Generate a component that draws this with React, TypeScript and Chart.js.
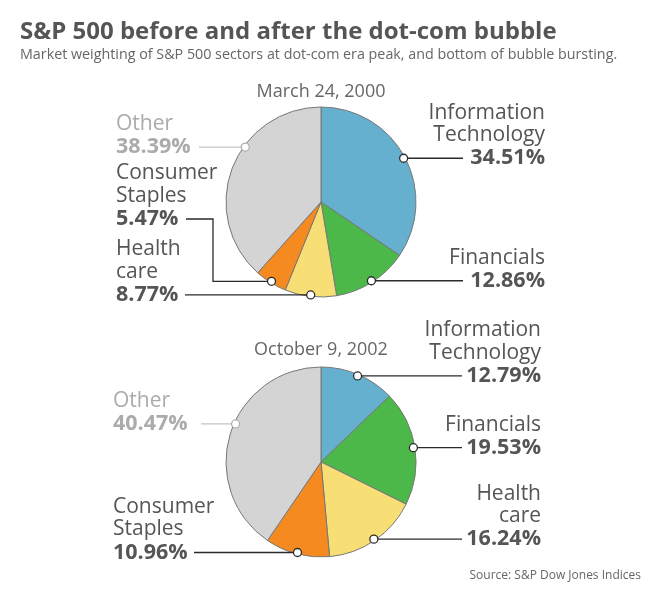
import React, { useEffect, useRef } from "react";
import { Chart, registerables } from "chart.js";

Chart.register(...registerables);

const sectorLines: string[][] = [
  ["Information", "Technology"],
  ["Financials"],
  ["Health", "care"],
  ["Consumer", "Staples"],
  ["Other"],
];
const weights2000 = [34.51, 12.86, 8.77, 5.47, 38.39];
const weights2002 = [12.79, 19.53, 16.24, 10.96, 40.47];
const dates = ["March 24, 2000", "October 9, 2002"];
const sliceColors = ["#65b0cf", "#4db84a", "#f8df75", "#f58a20", "#d4d4d4"];

type LabelLayout = {
  side: "left" | "right";
  x: number;
  lineX: number;
  textY?: number;
  elbowX?: number;
  angle?: number;
};

const FONT = '"Open Sans", "DejaVu Sans", sans-serif';

const pieSpecs = [
  {
    values: weights2000,
    date: dates[0],
    cx: 321,
    cy: 202,
    r: 95,
    dateY: 92,
    labels: [
      { side: "right", x: 545, lineX: 463 },
      { side: "right", x: 545, lineX: 463 },
      { side: "left", x: 116, lineX: 185 },
      { side: "left", x: 116, lineX: 186, textY: 219, elbowX: 213 },
      { side: "left", x: 116, lineX: 199, angle: 306 },
    ] as LabelLayout[],
  },
  {
    values: weights2002,
    date: dates[1],
    cx: 321,
    cy: 462,
    r: 95,
    dateY: 350,
    labels: [
      { side: "right", x: 541, lineX: 462 },
      { side: "right", x: 541, lineX: 462 },
      { side: "right", x: 541, lineX: 462 },
      { side: "left", x: 113, lineX: 194 },
      { side: "left", x: 113, lineX: 201, angle: 294 },
    ] as LabelLayout[],
  },
];

const W = 646;
const H = 602;

function makeLabelPlugin(spec: (typeof pieSpecs)[number]) {
  return {
    id: "calloutLabels",
    afterDatasetsDraw(chart: any) {
      const ctx: CanvasRenderingContext2D = chart.ctx;
      const meta = chart.getDatasetMeta(0);
      const values: number[] = chart.data.datasets[0].data;
      ctx.save();
      // date title
      ctx.font = `18px ${FONT}`;
      ctx.fillStyle = "#666";
      ctx.textAlign = "center";
      ctx.textBaseline = "middle";
      const first = meta.data[0];
      ctx.fillText(spec.date, first.x, spec.dateY);

      meta.data.forEach((arc: any, i: number) => {
        const L = spec.labels[i];
        const p = arc.getProps(["x", "y", "startAngle", "endAngle", "outerRadius"], true);
        const ang =
          L.angle !== undefined
            ? (L.angle * Math.PI) / 180 - Math.PI / 2
            : (p.startAngle + p.endAngle) / 2;
        const rr = p.outerRadius - 1.5;
        const dx = p.x + Math.cos(ang) * rr;
        const dy = p.y + Math.sin(ang) * rr;
        const isOther = i === 4;
        const lineCol = isOther ? "#c4c4c4" : "#2b2b2b";
        const textCol = isOther ? "#ababab" : "#555555";
        const textY = L.textY !== undefined ? L.textY : dy;

        // leader
        ctx.beginPath();
        ctx.strokeStyle = lineCol;
        ctx.lineWidth = 1.3;
        if (L.elbowX !== undefined) {
          ctx.moveTo(L.lineX, textY);
          ctx.lineTo(L.elbowX, textY);
          ctx.lineTo(L.elbowX, dy);
          ctx.lineTo(dx, dy);
        } else {
          ctx.moveTo(L.lineX, dy);
          ctx.lineTo(dx, dy);
        }
        ctx.stroke();

        // dot
        ctx.beginPath();
        ctx.arc(dx, dy, 4, 0, Math.PI * 2);
        ctx.fillStyle = "#fff";
        ctx.fill();
        ctx.lineWidth = 1.3;
        ctx.strokeStyle = isOther ? "#b0b0b0" : "#2b2b2b";
        ctx.stroke();

        // text
        ctx.textAlign = L.side === "right" ? "right" : "left";
        ctx.textBaseline = "middle";
        ctx.fillStyle = textCol;
        ctx.font = `bold 21.5px ${FONT}`;
        ctx.fillText(values[i].toFixed(2) + "%", L.x, textY);
        ctx.font = `21px ${FONT}`;
        const lines = sectorLines[i];
        for (let k = 0; k < lines.length; k++) {
          const off = 23 + (lines.length - 1 - k) * 22.5;
          ctx.fillText(lines[k], L.x, textY - off);
        }
      });
      ctx.restore();
    },
  };
}

function PieCanvas({ spec }: { spec: (typeof pieSpecs)[number] }) {
  const ref = useRef<HTMLCanvasElement>(null);
  useEffect(() => {
    if (!ref.current) return;
    const half = spec.r + 5;
    const chart = new Chart(ref.current, {
      type: "pie",
      data: {
        labels: sectorLines.map((l) => l.join(" ")),
        datasets: [
          {
            data: spec.values,
            backgroundColor: sliceColors,
            borderColor: "#777777",
            borderWidth: 1,
            hoverOffset: 0,
            offset: 0,
          },
        ],
      },
      options: {
        animation: false,
        responsive: false,
        events: [],
        radius: spec.r,
        layout: {
          padding: {
            left: spec.cx - half,
            right: W - (spec.cx + half),
            top: spec.cy - half,
            bottom: H - (spec.cy + half),
          },
        },
        plugins: { legend: { display: false }, tooltip: { enabled: false } },
      } as any,
      plugins: [makeLabelPlugin(spec)],
    });
    return () => chart.destroy();
  }, [spec]);
  return (
    <canvas
      ref={ref}
      width={W}
      height={H}
      style={{ position: "absolute", left: 0, top: 0, width: W, height: H }}
    />
  );
}

export default function App() {
  return (
    <div
      style={{
        position: "absolute",
        left: 0,
        top: 0,
        width: W,
        height: H,
        background: "#fff",
        fontFamily: FONT,
        overflow: "hidden",
      }}
    >
      {pieSpecs.map((s, i) => (
        <PieCanvas key={i} spec={s} />
      ))}
      <div
        style={{
          position: "absolute",
          left: 20,
          top: 18,
          fontSize: 24,
          lineHeight: 1,
          fontWeight: 700,
          color: "#555",
          whiteSpace: "nowrap",
        }}
      >
        S&amp;P 500 before and after the dot-com bubble
      </div>
      <div
        style={{
          position: "absolute",
          left: 20,
          top: 47,
          fontSize: 14.3,
          lineHeight: 1,
          color: "#666",
          whiteSpace: "nowrap",
        }}
      >
        Market weighting of S&amp;P 500 sectors at dot-com era peak, and bottom of bubble bursting.
      </div>
      <div
        style={{
          position: "absolute",
          right: 5,
          top: 569,
          fontSize: 12,
          lineHeight: 1,
          color: "#666",
          whiteSpace: "nowrap",
        }}
      >
        Source: S&amp;P Dow Jones Indices
      </div>
    </div>
  );
}
